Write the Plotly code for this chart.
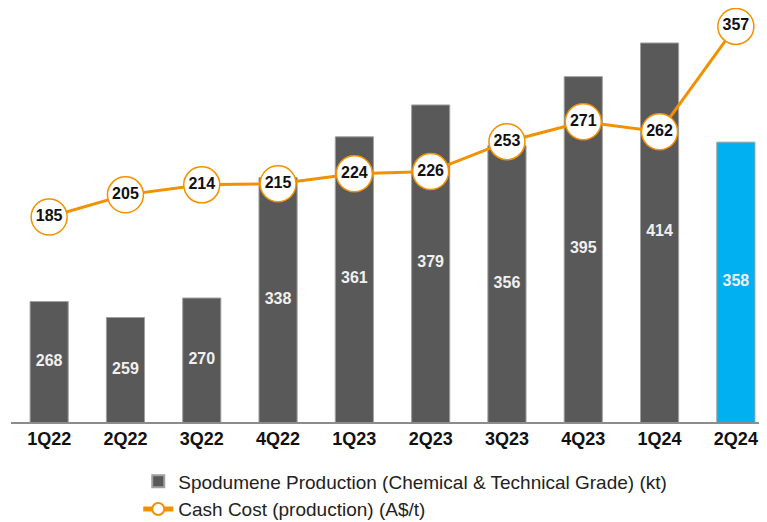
import plotly.graph_objects as go

quarters = ["1Q22", "2Q22", "3Q22", "4Q22", "1Q23", "2Q23", "3Q23", "4Q23", "1Q24", "2Q24"]
production_kt = [268, 259, 270, 338, 361, 379, 356, 395, 414, 358]
cash_cost = [185, 205, 214, 215, 224, 226, 253, 271, 262, 357]

BAR_AXIS_MIN = 200
bar_colors = ["#595959"] * 9 + ["#00B0F0"]
ORANGE = "#F29100"
FONT = "Liberation Sans, Arial, sans-serif"

# label positions: middle of the visible part of each bar
bar_label_y = [(v + BAR_AXIS_MIN) / 2 for v in production_kt]

fig = go.Figure()
fig.add_trace(go.Bar(
    x=quarters, y=production_kt, name="Spodumene Production (Chemical & Technical Grade) (kt)",
    marker=dict(color=bar_colors, line=dict(color="#a0a0a0", width=1)),
    width=0.5, legendgroup="a", yaxis="y",
))
fig.add_trace(go.Scatter(
    x=quarters, y=bar_label_y, mode="text", yaxis="y", showlegend=False,
    text=production_kt, textposition="middle center",
    textfont=dict(color="#f0f0f0", size=16, family=FONT, weight="bold"),
    cliponaxis=False,
))
fig.add_trace(go.Scatter(
    x=quarters, y=cash_cost, name="Cash Cost (production) (A$/t)",
    mode="lines+markers", yaxis="y2", legendgroup="b",
    line=dict(color=ORANGE, width=3),
    marker=dict(symbol="circle", size=36, color="white", line=dict(color=ORANGE, width=1.5)),
    cliponaxis=False,
))
fig.add_trace(go.Scatter(
    x=quarters, y=cash_cost, mode="text", yaxis="y2", showlegend=False,
    text=cash_cost, textposition="middle center",
    textfont=dict(color="#111111", size=16, family=FONT, weight="bold"),
    cliponaxis=False,
))

fig.update_layout(
    width=759, height=514,
    margin=dict(l=3, r=0, t=10, b=100, autoexpand=False),
    paper_bgcolor="white", plot_bgcolor="white",
    font=dict(family=FONT, color="#222222"),
    xaxis=dict(range=[-0.5, 9.408], showline=True, linecolor="#8c8c8c", linewidth=1.5,
               ticks="", ticklen=0, showgrid=False, zeroline=False, tickangle=0,
               tickfont=dict(size=18, color="#111111", family=FONT, weight="bold")),
    yaxis=dict(range=[BAR_AXIS_MIN, 428.1], visible=False, showgrid=False),
    yaxis2=dict(range=[0, 364.6], overlaying="y", visible=False, showgrid=False),
    legend=dict(orientation="v", xref="container", yref="container", x=0.1716, y=0.116,
                xanchor="left", yanchor="top", font=dict(size=19, color="#222222", family=FONT),
                itemsizing="constant", tracegroupgap=0, bgcolor="rgba(0,0,0,0)"),
    showlegend=True,
)
fig.write_html("out.html")
